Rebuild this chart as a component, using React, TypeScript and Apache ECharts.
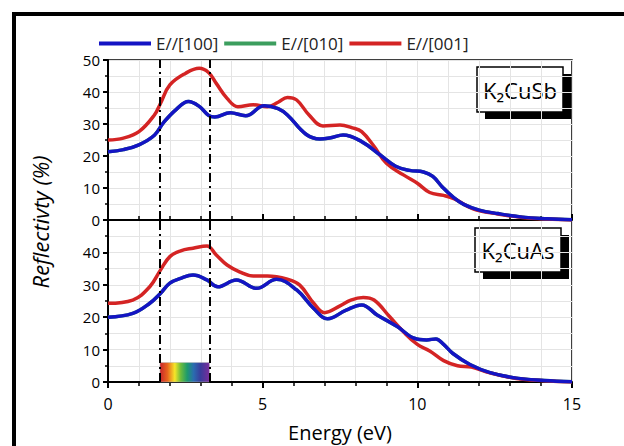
import React, { useEffect, useRef } from "react";
import * as echarts from "echarts";

// ---- data ----
const legendNames = ["E//[100]", "E//[010]", "E//[001]"];
const xTicks = [0, 5, 10, 15];
const yTicks = [0, 10, 20, 30, 40, 50];
const visibleRange = [1.68, 3.28];
const rainbowHeight = 6;

// K2CuSb (top panel)
const sbE100 = [0, 0.5, 1.0, 1.5, 1.8, 2.2, 2.6, 2.95, 3.25, 3.45, 3.95, 4.45, 5.05, 5.5, 5.8, 6.4, 6.85, 7.2, 7.6, 8.2, 8.8, 9.3, 9.75, 10.2, 10.5, 10.8, 11.15, 11.5, 12.0, 12.6, 13.4, 14.2, 15];
const sbV100 = [21.3, 22.0, 23.5, 26.5, 30.5, 34.5, 37.0, 35.5, 32.7, 32.2, 33.5, 32.6, 35.7, 34.8, 32.8, 26.8, 25.3, 25.7, 26.6, 24.5, 20.3, 16.8, 15.5, 15.0, 13.6, 10.4, 7.2, 4.9, 3.1, 2.0, 0.9, 0.4, 0.1];
const sbE001 = [0, 0.5, 1.0, 1.5, 1.7, 2.0, 2.5, 2.95, 3.25, 3.5, 3.85, 4.2, 4.7, 5.15, 5.5, 5.8, 6.1, 6.5, 6.95, 7.5, 7.9, 8.2, 8.6, 9.0, 9.55, 10.0, 10.4, 10.85, 11.2, 11.8, 12.6, 13.4, 14.2, 15];
const sbV001 = [25.0, 25.6, 27.6, 32.8, 36.5, 42.2, 45.8, 47.4, 46.1, 42.7, 38.0, 35.4, 36.0, 35.4, 36.8, 38.3, 37.5, 32.8, 29.4, 29.7, 28.8, 27.6, 23.0, 17.7, 14.1, 11.5, 8.6, 7.7, 6.6, 3.5, 1.9, 0.8, 0.3, 0.0];

// K2CuAs (bottom panel)
const asE100 = [0, 0.8, 1.35, 1.7, 2.0, 2.35, 2.75, 3.2, 3.55, 4.15, 4.8, 5.45, 6.1, 6.65, 7.1, 7.7, 8.2, 8.7, 9.35, 9.9, 10.3, 10.6, 10.85, 11.15, 11.7, 12.35, 13.2, 14.1, 15];
const asV100 = [20.0, 21.2, 24.3, 27.4, 30.5, 32.0, 33.0, 31.5, 29.4, 31.5, 28.9, 31.7, 28.4, 22.7, 19.5, 22.2, 23.8, 20.7, 17.1, 13.5, 13.0, 13.3, 11.6, 8.8, 5.4, 2.9, 1.2, 0.5, 0.1];
const asE001 = [0, 0.8, 1.35, 1.7, 2.0, 2.35, 2.75, 3.2, 3.5, 3.85, 4.25, 4.7, 5.15, 5.8, 6.2, 6.65, 7.0, 7.5, 7.85, 8.25, 8.6, 9.1, 9.55, 10.0, 10.4, 10.85, 11.3, 11.75, 12.35, 13.2, 14.1, 15];
const asV001 = [24.3, 25.3, 29.4, 34.6, 38.7, 40.5, 41.3, 42.0, 39.2, 36.1, 34.0, 32.7, 32.7, 31.7, 29.9, 24.3, 21.4, 23.5, 25.3, 26.1, 25.3, 20.2, 15.5, 11.6, 9.6, 6.6, 5.0, 4.6, 2.8, 1.1, 0.4, 0.0];

const colors = { e100: "#1414c4", e010: "#3c9e5e", e001: "#d42424" };
const FONT = "Open Sans";

const pairs = (xs: number[], ys: number[]) => xs.map((x, i) => [x, ys[i]]);

export default function App() {
  const ref = useRef<HTMLDivElement>(null);
  useEffect(() => {
    if (!ref.current) return;
    const chart = echarts.init(ref.current, null, { renderer: "svg" });

    const gridL = 108, gridW = 464;
    const grids = [
      { left: gridL, top: 60, width: gridW, height: 160 },
      { left: gridL, top: 220, width: gridW, height: 162 },
    ];

    const mkX = (i: number) => ({
      type: "value",
      gridIndex: i,
      min: xTicks[0],
      max: xTicks[xTicks.length - 1],
      interval: 5,
      axisLine: { onZero: false, lineStyle: { color: "#000", width: 2 } },
      axisTick: { show: true, inside: i === 0, length: 6, lineStyle: { color: "#000", width: 2 } },
      minorTick: { show: true, splitNumber: 5, length: 4, lineStyle: { color: "#000", width: 1.5 } },
      splitLine: { show: true, lineStyle: { color: "#e4e4e4", width: 1 } },
      minorSplitLine: { show: true, lineStyle: { color: "#e4e4e4", width: 1 } },
      axisLabel: {
        show: i === 1,
        color: "#000",
        fontFamily: FONT,
        fontSize: 16,
        margin: 14,
      },
      name: i === 1 ? "Energy (eV)" : "",
      nameLocation: "middle",
      nameGap: 40,
      nameTextStyle: { color: "#000", fontFamily: FONT, fontSize: 20 },
    });

    const mkY = (i: number) => ({
      type: "value",
      gridIndex: i,
      min: yTicks[0],
      max: yTicks[yTicks.length - 1],
      interval: 10,
      axisLine: { show: true, onZero: false, lineStyle: { color: "#000", width: 2 } },
      axisTick: { show: true, length: 5, lineStyle: { color: "#000", width: 2 } },
      minorTick: { show: true, splitNumber: 2, length: 3, lineStyle: { color: "#000", width: 1.5 } },
      splitLine: { show: true, lineStyle: { color: "#e4e4e4", width: 1 } },
      minorSplitLine: { show: true, lineStyle: { color: "#e4e4e4", width: 1 } },
      axisLabel: {
        color: "#000",
        fontFamily: FONT,
        fontSize: 15,
        margin: 8,
        showMaxLabel: i === 0,
        formatter: (v: number) => (i === 1 && v === 50 ? "" : String(v)),
      },
    });

    const vline = {
      silent: true,
      symbol: "none",
      label: { show: false },
      lineStyle: { color: "#000", width: 2, type: [9, 4, 2, 4] },
      data: visibleRange.map((x) => ({ xAxis: x })),
    };

    const lineSeries = (name: string, color: string, data: number[][], gi: number, z: number, extra: any = {}) => ({
      type: "line",
      name,
      xAxisIndex: gi,
      yAxisIndex: gi,
      data,
      smooth: 0.4,
      symbol: "none",
      z,
      lineStyle: { color, width: 3.5 },
      itemStyle: { color },
      ...extra,
    });

    const rainbow = new echarts.graphic.LinearGradient(0, 0, 1, 0, [
      { offset: 0, color: "#c8242c" },
      { offset: 0.15, color: "#e8641e" },
      { offset: 0.3, color: "#f6e628" },
      { offset: 0.42, color: "#6cbc3c" },
      { offset: 0.55, color: "#1c9a6c" },
      { offset: 0.68, color: "#2a6cb0" },
      { offset: 0.82, color: "#3a3c9c" },
      { offset: 1, color: "#7a2c9c" },
    ]);

    const box = (x: number, y: number, w: number, h: number, label: string) => ({
      type: "group",
      z: 100,
      children: [
        { type: "rect", shape: { x: x + 8, y: y + 7, width: w, height: h }, style: { fill: "#000" } },
        { type: "rect", shape: { x, y, width: w, height: h }, style: { fill: "#fff", stroke: "#000", lineWidth: 1.5 } },
        {
          type: "text",
          x: x + w / 2,
          y: y + h / 2,
          style: { text: label, fill: "#000", font: `22px '${FONT}'`, align: "center", verticalAlign: "middle" },
        },
      ],
    });

    chart.setOption({
      animation: false,
      backgroundColor: "#fff",
      grid: grids.map((g) => ({ ...g, show: true, borderColor: "#000", borderWidth: 1.5, backgroundColor: "transparent", containLabel: false })),
      legend: {
        data: legendNames,
        left: 94,
        top: 30,
        itemWidth: 52,
        itemHeight: 14,
        itemGap: 6,
        icon: "path://M0,6 L52,6 L52,10 L0,10 Z",
        textStyle: { color: "#222", fontFamily: FONT, fontSize: 17 },
      },
      xAxis: [mkX(0), mkX(1)],
      yAxis: [mkY(0), mkY(1)],
      series: [
        lineSeries(legendNames[1], colors.e010, pairs(sbE100, sbV100), 0, 2),
        lineSeries(legendNames[2], colors.e001, pairs(sbE001, sbV001), 0, 3),
        lineSeries(legendNames[0], colors.e100, pairs(sbE100, sbV100), 0, 4, { markLine: vline }),
        lineSeries(legendNames[1], colors.e010, pairs(asE100, asV100), 1, 2),
        lineSeries(legendNames[2], colors.e001, pairs(asE001, asV001), 1, 3),
        lineSeries(legendNames[0], colors.e100, pairs(asE100, asV100), 1, 4, {
          markLine: vline,
          markArea: {
            silent: true,
            itemStyle: { color: rainbow, borderColor: "#bbb", borderWidth: 0.5 },
            data: [[{ xAxis: visibleRange[0], yAxis: 0 }, { xAxis: visibleRange[1], yAxis: rainbowHeight }]],
          },
        }),
      ],
      graphic: [
        { type: "line", shape: { x1: 14, y1: 12, x2: 14, y2: 446 }, style: { stroke: "#000", lineWidth: 4 }, z: 100 },
        { type: "line", shape: { x1: 12, y1: 14, x2: 624, y2: 14 }, style: { stroke: "#000", lineWidth: 4 }, z: 100 },
        {
          type: "text",
          x: 40,
          y: 222,
          rotation: Math.PI / 2,
          style: {
            text: "Reflectivty (%)",
            fill: "#000",
            font: `italic 22px '${FONT}'`,
            align: "center",
            verticalAlign: "middle",
          },
        },
        box(477, 67, 86, 45, "K₂CuSb"),
        box(475, 228, 86, 44, "K₂CuAs"),
      ],
    });
    return () => chart.dispose();
  }, []);
  return <div ref={ref} style={{ width: 624, height: 446, position: "absolute", left: 0, top: 0 }} />;
}
